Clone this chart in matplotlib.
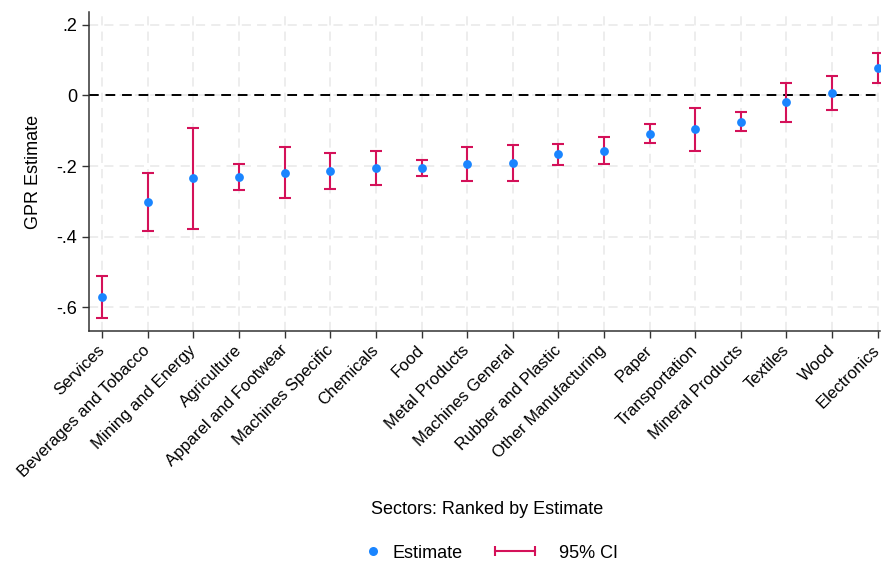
import matplotlib

matplotlib.use("Agg")
import matplotlib.pyplot as plt
from matplotlib.lines import Line2D

sectors = [
    "Services", "Beverages and Tobacco", "Mining and Energy", "Agriculture",
    "Apparel and Footwear", "Machines Specific", "Chemicals", "Food",
    "Metal Products", "Machines General", "Rubber and Plastic",
    "Other Manufacturing", "Paper", "Transportation", "Mineral Products",
    "Textiles", "Wood", "Electronics",
]
estimate = [-0.570, -0.302, -0.234, -0.231, -0.219, -0.214, -0.205, -0.205,
            -0.195, -0.191, -0.167, -0.157, -0.108, -0.096, -0.075, -0.020,
            0.007, 0.077]
ci_low = [-0.629, -0.384, -0.377, -0.267, -0.291, -0.266, -0.254, -0.228,
          -0.242, -0.242, -0.198, -0.194, -0.134, -0.158, -0.102, -0.074,
          -0.041, 0.034]
ci_high = [-0.512, -0.221, -0.092, -0.194, -0.147, -0.163, -0.157, -0.183,
           -0.147, -0.141, -0.137, -0.119, -0.081, -0.035, -0.047, 0.035,
           0.055, 0.121]
yticks = [-0.6, -0.4, -0.2, 0, 0.2]
ytick_labels = ["-.6", "-.4", "-.2", "0", ".2"]

BLUE = "#1A85FF"
RED = "#D41159"

plt.rcParams.update({
    "font.family": ["Liberation Sans", "DejaVu Sans"],
    "font.size": 12,
})

fig = plt.figure(figsize=(8.86, 5.63), dpi=100)
ax = fig.add_axes([89 / 886, 1 - 331 / 563, (880 - 89) / 886, (331 - 12) / 563])

x = list(range(len(sectors)))
yerr = [[e - lo for e, lo in zip(estimate, ci_low)],
        [hi - e for e, hi in zip(estimate, ci_high)]]

ax.axhline(0, color="black", linestyle=(0, (5, 3.5)), linewidth=1.4, zorder=2)
ax.errorbar(x, estimate, yerr=yerr, fmt="none", ecolor=RED, elinewidth=1.5,
            capsize=4, capthick=1.5, zorder=3)
ax.scatter(x, estimate, color=BLUE, s=40, zorder=4, linewidths=0)

ax.set_xlim(-0.29, 17.05)
ax.set_ylim(-0.667, 0.236)
ax.set_yticks(yticks)
ax.set_yticklabels(ytick_labels, fontsize=13)
ax.set_xticks(x)
ax.set_xticklabels(sectors, rotation=45, ha="right", va="center",
                   rotation_mode="anchor", fontsize=12)
ax.tick_params(axis="both", direction="out", length=5, width=1, color="#333333")
ax.tick_params(axis="x", pad=7)

ax.grid(True, color="#E8E8E8", linestyle=(0, (6, 4)), linewidth=1.1, zorder=0)
ax.set_axisbelow(True)
for side in ("top", "right"):
    ax.spines[side].set_visible(False)
for side in ("left", "bottom"):
    ax.spines[side].set_color("#333333")
    ax.spines[side].set_linewidth(1.1)

ax.set_ylabel("GPR Estimate", fontsize=13, labelpad=10)
fig.text(487 / 886, 1 - 510 / 563, "Sectors: Ranked by Estimate",
         ha="center", va="center", fontsize=13)

# legend: two pieces so the dot and the CI symbol get their own widths
h_est = Line2D([], [], color=BLUE, marker="o", linestyle="none", markersize=6.5,
               markeredgewidth=0)
h_ci = Line2D([], [], color=RED, marker="|", linewidth=1.5, markersize=7,
              markeredgewidth=1.5)
leg_y = 1 - 553 / 563
fig.legend([h_est], ["Estimate"], loc="center left",
           bbox_to_anchor=(364 / 886, leg_y), frameon=False, fontsize=13,
           handlelength=1.0, handletextpad=0.6, borderpad=0, borderaxespad=0,
           numpoints=1)
fig.legend([h_ci], ["95% CI"], loc="center left",
           bbox_to_anchor=(490 / 886, leg_y), frameon=False, fontsize=13,
           handlelength=2.8, handletextpad=1.0, borderpad=0, borderaxespad=0,
           numpoints=2)

fig.savefig("out.png", dpi=100)
